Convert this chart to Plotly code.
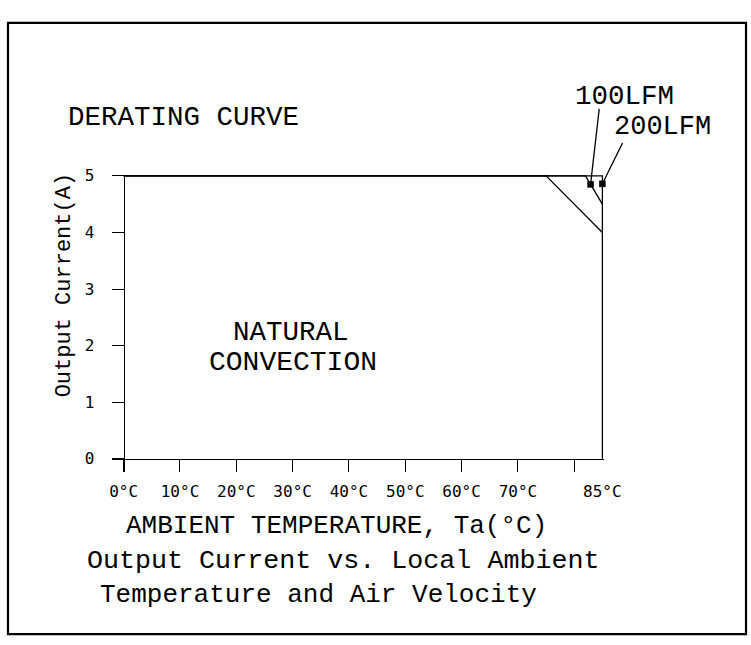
import plotly.graph_objects as go

# ---- data ----
x_ticks = [0, 10, 20, 30, 40, 50, 60, 70, 80]
x_tick_text = ["0°C", "10°C", "20°C", "30°C", "40°C", "50°C", "60°C", "70°C", ""]
y_ticks = [0, 1, 2, 3, 4, 5]

natural_t = [0, 75, 85]
natural_i = [5, 5, 4]
lfm100_t = [0, 82, 85]
lfm100_i = [5, 5, 4.5]
lfm200_t = [0, 85, 85]
lfm200_i = [5, 5, 0]

marker_t = [82.9, 85]
marker_i = [4.85, 4.86]
marker_labels = ["100LFM", "200LFM"]

W, H = 751, 645
def px(x):
    return x / W
def py(y):
    return 1 - y / H

def mono(size):
    return dict(family="Liberation Mono", size=size, color="black")

TICK = dict(family="DejaVu Sans Mono", size=16, color="black")
LW = 1.3

fig = go.Figure()
for t, i in [(natural_t, natural_i), (lfm100_t, lfm100_i), (lfm200_t, lfm200_i)]:
    fig.add_trace(go.Scatter(x=t, y=i, mode="lines",
                             line=dict(color="black", width=LW),
                             hoverinfo="skip", showlegend=False))
fig.add_trace(go.Scatter(x=marker_t, y=marker_i, mode="markers",
                         marker=dict(symbol="square", size=6.5, color="black"),
                         cliponaxis=False, hoverinfo="skip", showlegend=False))

# pixel geometry of the plot
x_left_px, x0_px, x_right_px = 110, 122, 602
y_top_px, y0_px, y_bot_px = 170, 456.5, 470
xmax = 85.2
xscale = (x_right_px - x0_px) / 85
xmin = -(x0_px - x_left_px) / xscale
x_right_dom = x0_px + xmax * xscale
yscale = (y0_px - y_top_px) / 5
ymax = 5.02
ymin = -(y_bot_px - y0_px) / yscale
y_top_dom = y0_px - ymax * yscale

fig.update_layout(
    width=W, height=H,
    margin=dict(l=0, r=0, t=0, b=0),
    paper_bgcolor="white", plot_bgcolor="white",
    showlegend=False,
    xaxis=dict(range=[xmin, xmax], domain=[px(x_left_px), px(x_right_dom)],
               anchor="free", position=py(y0_px),
               tickmode="array", tickvals=x_ticks, ticktext=x_tick_text,
               ticks="outside", ticklen=12, tickwidth=1.2, tickcolor="black",
               showline=True, linecolor="black", linewidth=LW,
               showgrid=False, zeroline=False, tickfont=TICK,
               ticklabelstandoff=6, fixedrange=True),
    yaxis=dict(range=[ymin, ymax], domain=[py(y_bot_px), py(y_top_dom)],
               anchor="free", position=px(x0_px),
               tickmode="array", tickvals=y_ticks,
               ticks="outside", ticklen=12, tickwidth=1.2, tickcolor="black",
               showline=True, linecolor="black", linewidth=LW,
               showgrid=False, zeroline=False, tickfont=TICK,
               ticklabelstandoff=14, fixedrange=True),
)

# leader lines for air-velocity labels (arrow tails offset in pixels)
leader_offsets = [(8.7, -76), (20.4, -41.3)]
for t, i, (dx, dy) in zip(marker_t, marker_i, leader_offsets):
    fig.add_annotation(x=t, y=i, xref="x", yref="y", text="",
                       showarrow=True, arrowhead=0, arrowwidth=LW,
                       arrowcolor="black", ax=dx, ay=dy,
                       standoff=0, startstandoff=0,
                       font=dict(size=1), borderpad=0)

# outer frame
fig.add_shape(type="rect", xref="paper", yref="paper",
              x0=px(6), x1=px(746), y0=py(634), y1=py(15),
              line=dict(color="black", width=2.2), fillcolor="rgba(0,0,0,0)")

def txt(s, x, y, font, angle=0):
    fig.add_annotation(text=s, x=px(x), y=py(y), xref="paper", yref="paper",
                       xanchor="center", yanchor="middle", showarrow=False,
                       font=font, textangle=angle)

txt("DERATING CURVE", 181.5, 111, mono(27.5))
txt(marker_labels[0], 624, 90, mono(27.5))
txt(marker_labels[1], 662, 121, mono(27))
txt("NATURAL", 290, 329, mono(27.5))
txt("CONVECTION", 292, 359, mono(28))
txt("85°C", 602, 490, TICK)
txt("AMBIENT TEMPERATURE, Ta(°C)", 335, 524, mono(26))
txt("Output Current vs. Local Ambient", 341.5, 560, mono(26.7))
txt("Temperature and Air Velocity", 317, 594, mono(26))
txt("Output Current(A)", 63, 281, mono(22), -90)

fig.write_html("out.html", config={"displayModeBar": False},
               post_script="document.body.style.margin='0';")
